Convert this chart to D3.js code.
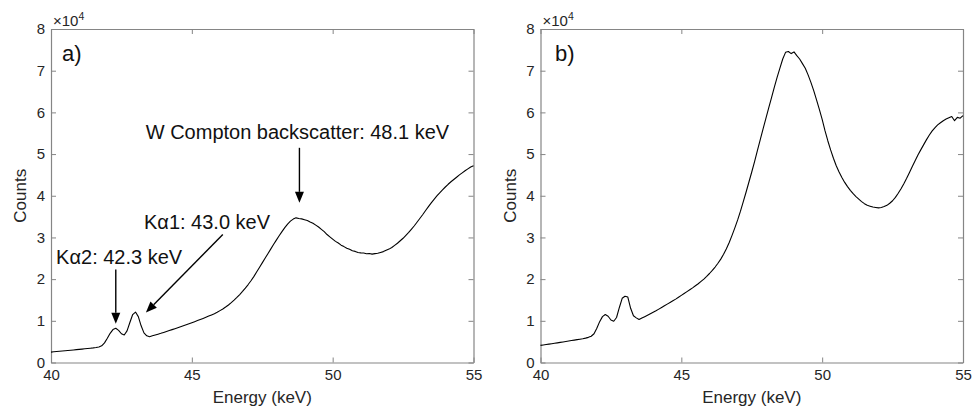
<!DOCTYPE html>
<html>
<head>
<meta charset="utf-8">
<script src="https://cdn.jsdelivr.net/npm/d3@7"></script>
<style>
  html, body { margin: 0; padding: 0; background: #fff; }
  svg { display: block; font-family: "Liberation Sans", Arial, Helvetica, sans-serif; }
</style>
</head>
<body>
<svg id="chart" width="972" height="410"></svg>
<script>
// Energy grid of the spectra (keV), 0.1 keV steps from 40.0 to 55.0
const energy = d3.range(151).map(i => +(40 + i * 0.1).toFixed(1));

// Panel a) counts (×10^4) at each energy step
const countsA = [
  0.250, 0.257, 0.263, 0.270, 0.276, 0.282, 0.289, 0.295, 0.301, 0.308,
  0.314, 0.321, 0.328, 0.335, 0.342, 0.350, 0.360, 0.372, 0.400, 0.470,
  0.580, 0.700, 0.790, 0.820, 0.770, 0.690, 0.660, 0.760, 0.960, 1.150,
  1.210, 1.100, 0.880, 0.710, 0.640, 0.620, 0.640, 0.660, 0.680, 0.700,
  0.722, 0.744, 0.766, 0.789, 0.812, 0.835, 0.858, 0.882, 0.906, 0.930,
  0.955, 0.980, 1.005, 1.031, 1.058, 1.085, 1.113, 1.142, 1.172, 1.205,
  1.245, 1.285, 1.330, 1.380, 1.435, 1.495, 1.560, 1.630, 1.705, 1.785,
  1.870, 1.960, 2.060, 2.170, 2.280, 2.390, 2.500, 2.610, 2.720, 2.830,
  2.935, 3.040, 3.140, 3.235, 3.320, 3.390, 3.440, 3.470, 3.455, 3.445,
  3.425, 3.405, 3.370, 3.340, 3.295, 3.250, 3.195, 3.140, 3.070, 3.015,
  2.960, 2.905, 2.865, 2.815, 2.780, 2.740, 2.715, 2.680, 2.665, 2.640,
  2.630, 2.625, 2.610, 2.615, 2.600, 2.612, 2.620, 2.640, 2.660, 2.690,
  2.720, 2.760, 2.810, 2.860, 2.920, 2.980, 3.050, 3.120, 3.200, 3.280,
  3.370, 3.460, 3.550, 3.645, 3.740, 3.830, 3.915, 3.995, 4.070, 4.140,
  4.210, 4.275, 4.335, 4.390, 4.445, 4.500, 4.550, 4.600, 4.645, 4.690,
  4.720
];

// Panel b) counts (×10^4) at each energy step
const countsB = [
  0.410, 0.420, 0.430, 0.440, 0.450, 0.460, 0.471, 0.482, 0.493, 0.504,
  0.515, 0.526, 0.537, 0.548, 0.559, 0.570, 0.585, 0.603, 0.630, 0.690,
  0.820, 0.980, 1.100, 1.150, 1.110, 1.020, 0.990, 1.080, 1.320, 1.540,
  1.590, 1.570, 1.300, 1.120, 1.070, 1.030, 1.065, 1.100, 1.135, 1.170,
  1.205, 1.240, 1.280, 1.320, 1.360, 1.400, 1.440, 1.480, 1.520, 1.565,
  1.610, 1.655, 1.700, 1.745, 1.790, 1.840, 1.890, 1.945, 2.000, 2.065,
  2.135, 2.210, 2.290, 2.380, 2.480, 2.595, 2.730, 2.880, 3.050, 3.230,
  3.420, 3.630, 3.860, 4.090, 4.330, 4.570, 4.820, 5.080, 5.340, 5.600,
  5.850, 6.100, 6.350, 6.600, 6.840, 7.060, 7.280, 7.440, 7.460, 7.410,
  7.450, 7.360, 7.280, 7.170, 7.060, 6.900, 6.720, 6.520, 6.300, 6.070,
  5.830, 5.560, 5.320, 5.100, 4.900, 4.720, 4.570, 4.440, 4.320, 4.220,
  4.130, 4.050, 3.980, 3.920, 3.860, 3.810, 3.770, 3.750, 3.730, 3.720,
  3.710, 3.720, 3.740, 3.770, 3.820, 3.880, 3.960, 4.060, 4.170, 4.290,
  4.420, 4.560, 4.700, 4.840, 4.980, 5.100, 5.220, 5.340, 5.450, 5.550,
  5.630, 5.700, 5.750, 5.800, 5.840, 5.870, 5.900, 5.800, 5.880, 5.860,
  5.920
];

const xTicks = [40, 45, 50, 55];
const yTicks = [0, 1, 2, 3, 4, 5, 6, 7, 8];
const yScaleFactor = 1e4;

// Peak annotations for panel a): label anchor and arrow (keV, counts)
const annotationsA = [
  { text: "Kα2: 42.3 keV", tx: 42.42, ty: 23700, from: [42.30, 22300], to: [42.30, 9300] },
  { text: "Kα1: 43.0 keV", tx: 45.54, ty: 32000, from: [46.10, 30700], to: [43.37, 12000] },
  { text: "W Compton backscatter: 48.1 keV", tx: 48.75, ty: 53700, from: [48.82, 51500], to: [48.82, 38300] }
];

const panels = [
  { id: "a)", counts: countsA, left: 51, annotations: annotationsA },
  { id: "b)", counts: countsB, left: 540.5, annotations: [] }
];

const svg = d3.select("#chart");
const plotW = 422.5, plotTop = 29, plotBottom = 362.5;
const axisColor = "#858585", textColor = "#262626";

panels.forEach(p => {
  const h = plotBottom - plotTop;
  const x = d3.scaleLinear().domain([40, 55]).range([0, plotW]);
  const y = d3.scaleLinear().domain([0, 8 * yScaleFactor]).range([h, 0]);
  const g = svg.append("g").attr("transform", `translate(${p.left},${plotTop})`);

  const styleAxis = sel => {
    sel.select(".domain").attr("stroke", axisColor).attr("stroke-width", 1.2);
    sel.selectAll(".tick line").attr("stroke", axisColor).attr("stroke-width", 1);
    sel.selectAll(".tick text").attr("fill", textColor).attr("font-size", 15);
    sel.attr("font-family", null);
  };

  // Bottom and left axes with labels, ticks pointing inward
  g.append("g").attr("transform", `translate(0,${h})`)
    .call(d3.axisBottom(x).tickValues(xTicks).tickSizeInner(-5).tickSizeOuter(0).tickPadding(7).tickFormat(d3.format("d")))
    .call(styleAxis);
  g.append("g")
    .call(d3.axisLeft(y).tickValues(yTicks.map(v => v * yScaleFactor)).tickSizeInner(-5).tickSizeOuter(0).tickPadding(6)
      .tickFormat(v => d3.format("d")(v / yScaleFactor)))
    .call(styleAxis);
  // Top and right box edges with matching ticks
  g.append("g")
    .call(d3.axisTop(x).tickValues(xTicks).tickSizeInner(-5).tickSizeOuter(0).tickFormat(""))
    .call(styleAxis);
  g.append("g").attr("transform", `translate(${plotW},0)`)
    .call(d3.axisRight(y).tickValues(yTicks.map(v => v * yScaleFactor)).tickSizeInner(-5).tickSizeOuter(0).tickFormat(""))
    .call(styleAxis);

  // Exponent marker above the y axis
  const ex = g.append("text").attr("x", 2).attr("y", -3).attr("fill", textColor).attr("font-size", 15);
  ex.append("tspan").text("×10");
  ex.append("tspan").attr("font-size", 10.5).attr("dy", -6).text("4");

  // Axis titles
  g.append("text").attr("x", plotW / 2).attr("y", h + 40.5).attr("text-anchor", "middle")
    .attr("fill", textColor).attr("font-size", 17).text("Energy (keV)");
  g.append("text").attr("transform", `translate(-25,${h / 2}) rotate(-90)`).attr("text-anchor", "middle")
    .attr("fill", textColor).attr("font-size", 17).text("Counts");

  // Panel letter
  g.append("text").attr("x", p.id === "a)" ? 11 : 14.5).attr("y", 32).attr("fill", "#111")
    .attr("font-size", 22).text(p.id);

  // Spectrum
  const line = d3.line()
    .x((d, i) => x(energy[i]))
    .y(d => y(d * yScaleFactor));
  g.append("path").datum(p.counts)
    .attr("d", line).attr("fill", "none").attr("stroke", "#000").attr("stroke-width", 1.1)
    .attr("stroke-linejoin", "round");

  // Annotations with arrows
  p.annotations.forEach(a => {
    g.append("text").attr("x", x(a.tx)).attr("y", y(a.ty)).attr("text-anchor", "middle")
      .attr("fill", "#111").attr("font-size", 20).text(a.text);
    const x1 = x(a.from[0]), y1 = y(a.from[1]), x2 = x(a.to[0]), y2 = y(a.to[1]);
    const ang = Math.atan2(y2 - y1, x2 - x1);
    const headL = 11, headW = 4.5;
    const bx = x2 - headL * Math.cos(ang), by = y2 - headL * Math.sin(ang);
    g.append("line").attr("x1", x1).attr("y1", y1).attr("x2", bx).attr("y2", by)
      .attr("stroke", "#000").attr("stroke-width", 1.4);
    const px = -Math.sin(ang) * headW, py = Math.cos(ang) * headW;
    g.append("path")
      .attr("d", `M${x2},${y2}L${bx + px},${by + py}L${bx - px},${by - py}Z`)
      .attr("fill", "#000");
  });
});
</script>
</body>
</html>
